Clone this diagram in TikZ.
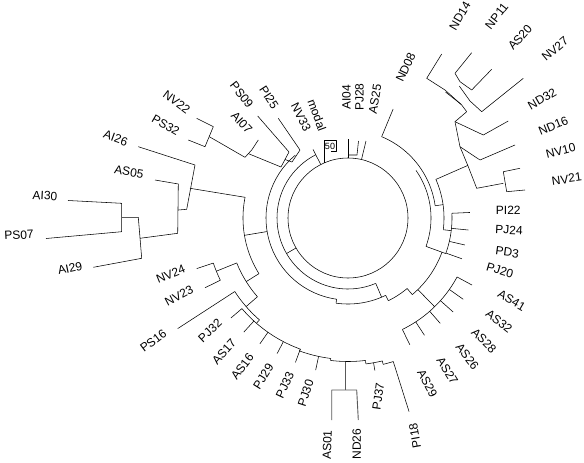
\documentclass[tikz,border=0pt]{standalone}
\usepackage{fontspec}
\setmainfont{Liberation Sans}
\usetikzlibrary{calc}
\newcommand\parc[3]{\draw plot[domain=#2:#3, samples=60, variable=\t] ({348+#1*cos(\t)},{218-#1*sin(\t)});}
\newcommand\prad[3]{\draw ({348+#2*cos(#1)},{218-#2*sin(#1)}) -- ({348+#3*cos(#1)},{218-#3*sin(#1)});}
\begin{document}
\begin{tikzpicture}[x=1pt,y=-1pt,line width=0.55pt,line join=round,
  lbl/.style={font=\fontsize{12}{12}\selectfont,inner sep=0pt},
  stem/.style={draw=black!65,line width=0.9pt}]
\useasboundingbox (0,0) rectangle (584,463);
\coordinate (C) at (348,218);
% root circle
\draw (C) circle[radius=60];
% top small group
\draw (348.5,158) -- (348.5,139);
\draw (348.5,155) -- (357,155) -- (358.5,141);
\draw (361.5,159.5) -- (366,141);
% modal bracket
\draw (324,163) -- (324,140) -- (336,140) -- (336,151) -- (331,151);
% NV33
\prad{117}{60}{77}
% arc A
\parc{71}{117}{293}
\prad{210}{60}{71}
\prad{293}{71}{86}
% arc B spiral
\parc{82}{130}{262}
\prad{262}{82}{86}
\parc{86}{262}{296}
\prad{296}{86}{92}
\parc{92}{296}{310}
\prad{310}{92}{100}
\parc{100}{310}{340}
\prad{340}{100}{104}
\parc{104}{340}{362.6}
% right-middle leaves
\prad{2.6}{104}{122}
\prad{-5.7}{104}{121}
\prad{-13}{104}{120}
\prad{-19.7}{104}{121}
% AS cluster
\prad{314.3}{100}{124}
\parc{124}{296}{331.6}
\prad{331.6}{124}{141}
\prad{324.8}{124}{141}
\prad{318.2}{124}{141}
\prad{311.2}{124}{140}
\prad{303.1}{124}{140}
\prad{296}{124}{141}
% right upper arcs
\parc{83}{-20}{35}
\prad{-20}{83}{100}
\parc{88}{8}{67.5}
\prad{67.5}{88}{118}
\prad{8}{88}{96}
\parc{96}{-7}{23.7}
\prad{-7}{96}{104}
\prad{23.7}{96}{131}
% top-right cluster
\draw (441.7,54) -- (426.7,78.3) -- (445,90) -- (461.7,105) -- (466.7,111.7);
\draw (445.5,92) -- (461,104.2);
\draw (471.7,52.7) -- (455,73.3) -- (460,81.7) -- (471.7,90) -- (491.7,69.3);
\draw (459.3,86) -- (470,101) -- (481.7,111.7) -- (523.3,78.3);
\draw (466.7,111.7) -- (455,121.7) -- (460,146.7) -- (468.3,166.7) -- (476.7,188.3);
\draw (455,121.7) -- (483.3,135) -- (508.3,121);
\draw (460,146.7) -- (480,160) -- (515,145);
\draw (476.7,188.3) -- (503.3,183.3);
\draw (520,168.3) -- (503.3,171.7) -- (506.7,191.7) -- (525,190);
% left cluster
\draw (68,200.5) -- (121.7,203.3) -- (121.7,231.7) -- (46,238.5);
\draw (122,217.3) -- (138.3,217.3) -- (141.7,258.3) -- (93.3,267.3);
\draw (140,238.3) -- (177.7,233.3) -- (178.3,184) -- (155,180);
\draw (178.3,210) -- (186.7,209.3) -- (195,165) -- (138.3,146.7);
\draw (190,188.3) -- (245,197.3);
\parc{105}{168.6}{212}
\prad{189.5}{82}{105}
\prad{212}{105}{120}
\parc{120}{202}{221}
\prad{202}{120}{142}
\parc{142}{198.5}{206}
\prad{198.5}{142}{159.5}
\prad{206}{142}{159}
\prad{221}{120}{135}
\parc{135}{213}{229}
\prad{213}{135}{203}
\prad{229}{135}{139.5}
% bottom chain
\parc{139.5}{220.5}{250}
\prad{220.5}{139.5}{154}
\prad{227.6}{139.5}{154.5}
\prad{235}{139.5}{153.5}
\prad{242.4}{139.5}{153}
\prad{250}{139.5}{153.6}
\prad{250}{139.5}{141.5}
\parc{141.5}{250}{263}
\prad{258}{141.5}{155.5}
\prad{263}{141.5}{143.5}
\parc{143.5}{263}{277}
\draw[stem] (345,361.5) -- (345,390);
\draw[stem] (331.7,420) -- (331.7,390) -- (356.7,390) -- (358.3,420);
\prad{277}{143.5}{147}
\parc{147}{277}{283.5}
\prad{280}{147}{155}
\prad{283.5}{147}{150.5}
\parc{150.5}{283.5}{287.5}
\prad{287.5}{150.5}{203}
% top-left cluster
\draw (196.7,118.3) -- (213.3,126.7) -- (205,146.7) -- (188.3,140);
\draw (209.3,136.7) -- (245,157.3) -- (251.7,150) -- (258.3,140);
\draw (248.3,153.6) -- (281,167) -- (289,152) -- (257.7,116);
\draw (285,159.5) -- (292,162) -- (300,150) -- (278.3,118.3);
% labels
\node[lbl,rotate=90] (AI04) at (346.5,97) {AI04};
\node[lbl,rotate=90] (PJ28) at (359.5,97) {PJ28};
\node[lbl,rotate=80] (AS25) at (375,99) {AS25};
\node[lbl,rotate=65] (ND08) at (405.7,67.3) {ND08};
\node[lbl,rotate=60] (ND14) at (460,16) {ND14};
\node[lbl,rotate=52] (NP11) at (496.7,16) {NP11};
\node[lbl,rotate=48] (AS20) at (520,37.3) {AS20};
\node[lbl,rotate=40] (NV27) at (555,49) {NV27};
\node[lbl,rotate=30] (ND32) at (542,99) {ND32};
\node[lbl,rotate=22] (ND16) at (553.3,125.7) {ND16};
\node[lbl,rotate=14] (NV10) at (560.7,150.7) {NV10};
\node[lbl,rotate=8] (NV21) at (566.7,179) {NV21};
\node[lbl] (PI22) at (508.3,210.7) {PI22};
\node[lbl,rotate=-3] (PJ24) at (509,230) {PJ24};
\node[lbl,rotate=-8] (PD3) at (507.3,252.3) {PD3};
\node[lbl,rotate=-17] (PJ20) at (500,270.7) {PJ20};
\node[lbl,rotate=-30] (AS41) at (511.7,300.7) {AS41};
\node[lbl,rotate=-38] (AS32) at (499,321.7) {AS32};
\node[lbl,rotate=-45] (AS28) at (484,340.7) {AS28};
\node[lbl,rotate=-52] (AS26) at (467.3,356.7) {AS26};
\node[lbl,rotate=-58] (AS27) at (447.3,370.7) {AS27};
\node[lbl,rotate=-62] (AS29) at (427.3,383.3) {AS29};
\node[lbl,rotate=100] (PI18) at (415,435.7) {PI18};
\node[lbl,rotate=82] (PJ37) at (378.3,396.7) {PJ37};
\node[lbl,rotate=90] (ND26) at (356.7,444) {ND26};
\node[lbl,rotate=88] (AS01) at (327.3,445) {AS01};
\node[lbl,rotate=72] (PJ30) at (305.7,393.3) {PJ30};
\node[lbl,rotate=65] (PJ33) at (285,385) {PJ33};
\node[lbl,rotate=58] (PJ29) at (263.3,376.7) {PJ29};
\node[lbl,rotate=53] (AS16) at (242.3,366.7) {AS16};
\node[lbl,rotate=48] (AS17) at (224,351.7) {AS17};
\node[lbl,rotate=43] (PJ32) at (210,330.7) {PJ32};
\node[lbl,rotate=37] (PS16) at (153.3,340.7) {PS16};
\node[lbl,rotate=28] (NV23) at (179,295.7) {NV23};
\node[lbl,rotate=22] (NV24) at (170.7,274) {NV24};
\node[lbl,rotate=12] (AI29) at (70,268.3) {AI29};
\node[lbl,rotate=3] (PS07) at (19,235) {PS07};
\node[lbl,rotate=-3] (AI30) at (45,195.7) {AI30};
\node[lbl,rotate=-10] (AS05) at (129,172) {AS05};
\node[lbl,rotate=-20] (AI26) at (115.7,138.3) {AI26};
\node[lbl,rotate=-30] (PS32) at (165.7,125) {PS32};
\node[lbl,rotate=-37] (NV22) at (176.7,101.7) {NV22};
\node[lbl,rotate=-47] (AI07) at (241.7,122.5) {AI07};
\node[lbl,rotate=-52] (PS09) at (241.7,95) {PS09};
\node[lbl,rotate=-57] (PI25) at (269,97.5) {PI25};
\node[lbl,rotate=-63] (NV33) at (301,117) {NV33};
\node[lbl,rotate=-70] (modal) at (317,115) {modal};
\node[inner sep=0pt,font=\fontsize{9}{9}\selectfont] (fifty) at (330,146) {50};
\end{tikzpicture}
\end{document}
